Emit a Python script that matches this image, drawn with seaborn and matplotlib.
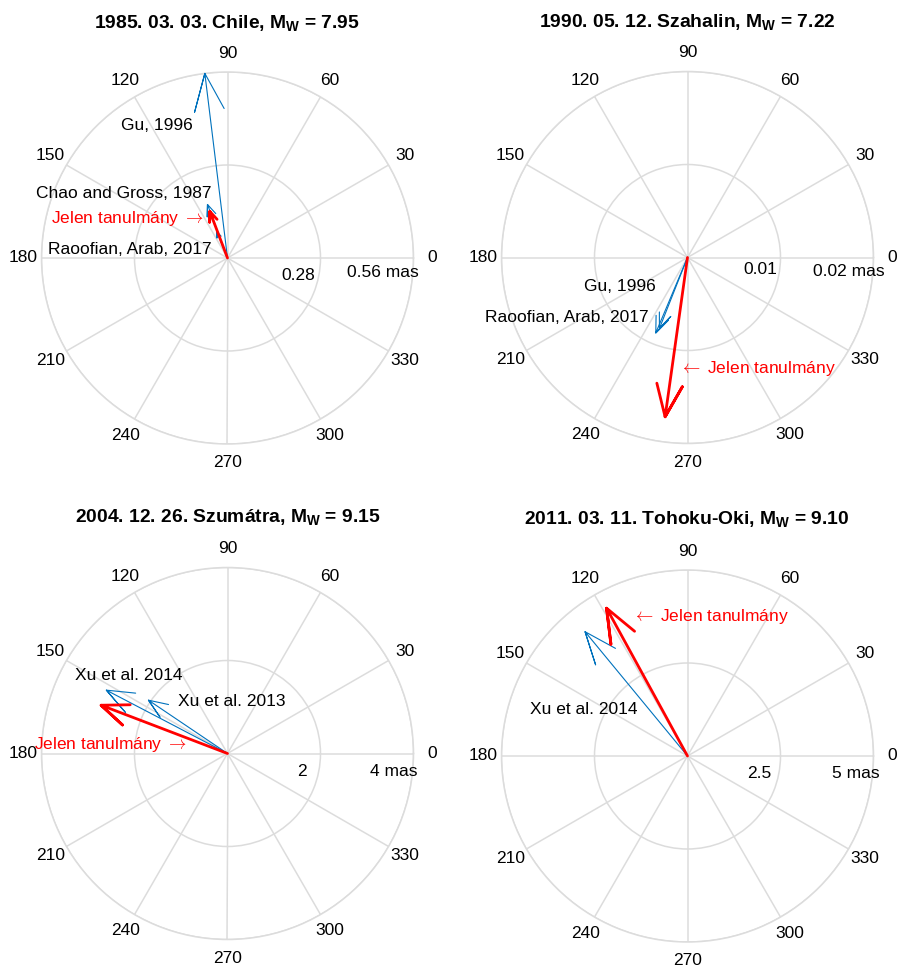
import numpy as np
import matplotlib
matplotlib.use("Agg")
import matplotlib.pyplot as plt
import seaborn as sns

sns.set_theme(style="white")
plt.rcParams['font.family'] = ['Liberation Sans', 'DejaVu Sans']
plt.rcParams['text.color'] = 'black'
plt.rcParams['mathtext.fontset'] = 'custom'
plt.rcParams['mathtext.rm'] = 'Liberation Sans'
plt.rcParams['mathtext.bf'] = 'Liberation Sans:bold'

# panel titles and scale (outer ring in mas)
titles = ["1985. 03. 03. Chile, M$_\\mathbf{W}$ = 7.95",
          "1990. 05. 12. Szahalin, M$_\\mathbf{W}$ = 7.22",
          "2004. 12. 26. Szumátra, M$_\\mathbf{W}$ = 9.15",
          "2011. 03. 11. Tohoku-Oki, M$_\\mathbf{W}$ = 9.10"]
rmax = [0.56, 0.02, 4, 5]
ring_labels = [["0.28", "0.56 mas"], ["0.01", "0.02 mas"],
               ["2", "4 mas"], ["2.5", "5 mas"]]

# excitation vectors: amplitude (mas), direction (deg)
chile_src = ["Gu, 1996", "Chao and Gross, 1987", "Raoofian, Arab, 2017", "Jelen tanulmány"]
chile_amp = [0.560, 0.172, 0.085, 0.150]
chile_ang = [97.0, 110.5, 112.0, 110.8]

szahalin_src = ["Gu, 1996", "Raoofian, Arab, 2017", "Jelen tanulmány"]
szahalin_amp = [0.0082, 0.0088, 0.0173]
szahalin_ang = [248.4, 247.2, 262.0]

szumatra_src = ["Xu et al. 2014", "Xu et al. 2013", "Jelen tanulmány"]
szumatra_amp = [2.94, 2.05, 2.91]
szumatra_ang = [152.4, 146.0, 159.1]

tohoku_src = ["Xu et al. 2014", "Jelen tanulmány"]
tohoku_amp = [4.33, 4.53]
tohoku_ang = [129.5, 118.7]

panels = [(chile_src, chile_amp, chile_ang),
          (szahalin_src, szahalin_amp, szahalin_ang),
          (szumatra_src, szumatra_amp, szumatra_ang),
          (tohoku_src, tohoku_amp, tohoku_ang)]

# layout (pixels): panel centres, label anchors
W, H = 900, 969
R = 186
centres = [(227.5, 258), (687.5, 257.5), (227.5, 753.5), (687.5, 756)]
title_pos = [(227, 29), (687, 28), (228, 523), (687, 525)]
ring_pos = [[(315, 275), (419, 273)], [(777, 269), (885, 271)],
            [(307, 772), (418, 772)], [(771, 773), (880, 773)]]
# (x, y, ha) for each source label
label_pos = [
    {"Gu, 1996": (193, 125, "right"), "Chao and Gross, 1987": (211, 193, "right"),
     "Jelen tanulmány": (204, 218, "right"), "Raoofian, Arab, 2017": (212, 249, "right")},
    {"Gu, 1996": (656, 287, "right"), "Raoofian, Arab, 2017": (649, 317, "right"),
     "Jelen tanulmány": (679, 369, "left")},
    {"Xu et al. 2014": (75, 675, "left"), "Xu et al. 2013": (178, 702, "left"),
     "Jelen tanulmány": (187, 745, "right")},
    {"Jelen tanulmány": (632, 616, "left"), "Xu et al. 2014": (530, 710, "left")},
]

BLUE = "#0072BD"
RED = "#FF0000"
GRID = "#DCDCDC"
FS = 12.5


def compass_arrow(ax, amp, ang, color, lw):
    # MATLAB compass style arrow: shaft + two head strokes
    z = amp * np.exp(1j * np.deg2rad(ang))
    pts = np.array([0, 1, 0.8 + 0.08j, 1, 0.8 - 0.08j]) * z
    sns.lineplot(x=np.angle(pts), y=np.abs(pts), sort=False, estimator=None,
                 color=color, linewidth=lw, ax=ax, clip_on=False, zorder=3)


def put(x, y, s, **kw):
    fig.text(x / W, 1 - y / H, s, **kw)


fig = plt.figure(figsize=(9, 9.69), dpi=100)

for i, (src, amp, ang) in enumerate(panels):
    cx, cy = centres[i]
    ax = fig.add_axes([(cx - R) / W, 1 - (cy + R) / H, 2 * R / W, 2 * R / H],
                      projection="polar")
    rm = rmax[i]
    ax.set_rlim(0, rm)
    ax.set_thetagrids(np.arange(0, 360, 30), labels=[])
    ax.set_rgrids([rm / 2, rm], labels=[])
    ax.grid(True, color=GRID, linewidth=1.1)
    ax.spines['polar'].set_color(GRID)
    ax.spines['polar'].set_linewidth(1.1)
    ax.set_facecolor("white")
    for a in range(0, 360, 30):
        ax.text(np.deg2rad(a), 1.1 * rm, str(a), ha="center", va="center", fontsize=FS)

    for s, a_, g in zip(src, amp, ang):
        if s != "Jelen tanulmány":
            compass_arrow(ax, a_, g, BLUE, 0.8)
    for s, a_, g in zip(src, amp, ang):
        if s == "Jelen tanulmány":
            compass_arrow(ax, a_, g, RED, 2.0)
    ax.set_xlabel("")
    ax.set_ylabel("")

    for s in src:
        x, y, ha = label_pos[i][s]
        if s == "Jelen tanulmány":
            txt = s + " $\\rightarrow$" if ha == "right" else "$\\leftarrow$ " + s
            put(x, y, txt, ha=ha, va="center", fontsize=FS, color=RED,
                math_fontfamily="cm")
        else:
            put(x, y, s, ha=ha, va="center", fontsize=FS, color="black")

    for lab, (x, y) in zip(ring_labels[i], ring_pos[i]):
        put(x, y, lab, ha="right", va="center", fontsize=FS)

    tx, ty = title_pos[i]
    put(tx, ty, titles[i], ha="center", va="baseline", fontsize=13.9, fontweight="bold")

fig.savefig("out.png", dpi=100, facecolor="white")
